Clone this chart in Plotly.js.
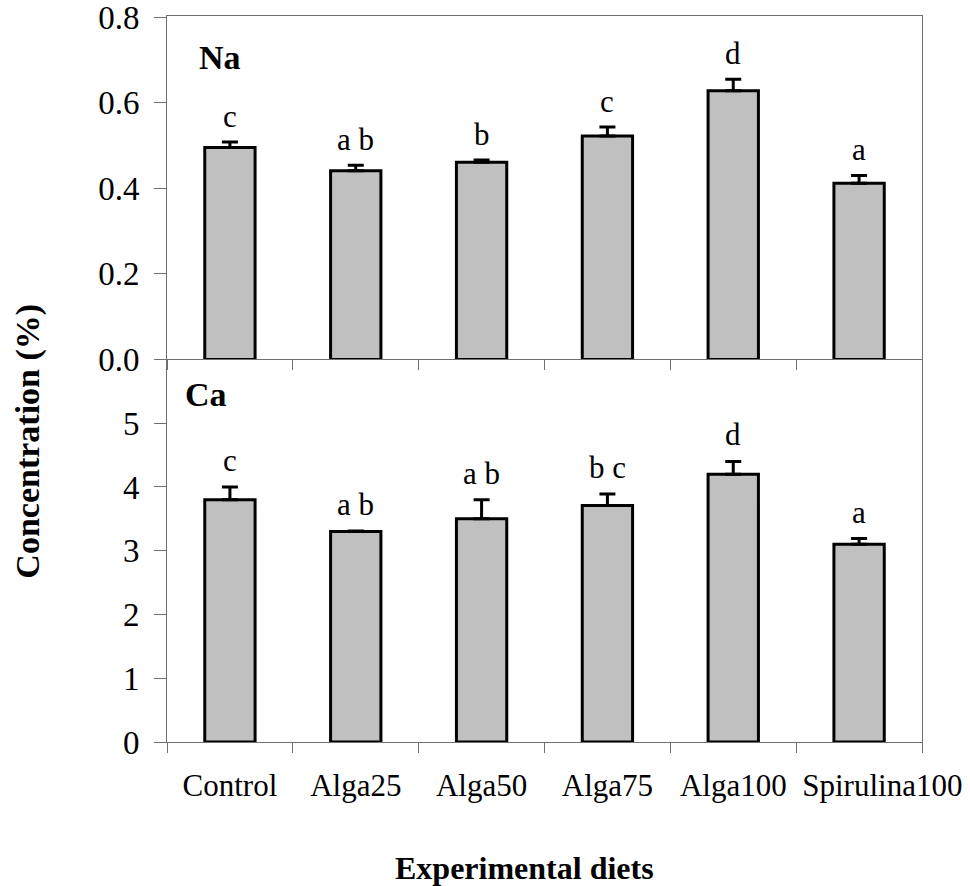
<!DOCTYPE html>
<html>
<head>
<meta charset="utf-8">
<script src="https://cdn.plot.ly/plotly-3.0.1.min.js"></script>
<style>html,body{margin:0;padding:0;background:#fff;}#chart{width:970px;height:886px;}</style>
</head>
<body>
<div id="chart"></div>
<script>
// Data
var diets = ["Control", "Alga25", "Alga50", "Alga75", "Alga100", "Spirulina100"];
var naValues = [0.495, 0.441, 0.461, 0.522, 0.628, 0.412];
var naErrors = [0.013, 0.013, 0.005, 0.021, 0.027, 0.018];
var naLetters = ["c", "a b", "b", "c", "d", "a"];
var caValues = [3.80, 3.30, 3.50, 3.71, 4.20, 3.10];
var caErrors = [0.20, 0.01, 0.30, 0.18, 0.20, 0.09];
var caLetters = ["c", "a b", "a b", "b c", "d", "a"];
var naTicks = [0.0, 0.2, 0.4, 0.6, 0.8];
var naTickText = ["0.0", "0.2", "0.4", "0.6", "0.8"];
var caTicks = [0, 1, 2, 3, 4, 5];

var serif = "Liberation Serif";
var lineCol = "#707070";
var NB = "\u00a0";
// last label is nudged right in the reference to avoid touching "Alga100"
var dietText = diets.map(function(d, i) {
  return i === diets.length - 1 ? NB + NB + NB + NB + NB + NB + d : d;
});

var barStyle = {color: "#c0c0c0", line: {color: "#000", width: 3}};
var traces = [
  {type: "bar", x: diets, y: naValues, xaxis: "x", yaxis: "y", width: 0.4,
   marker: barStyle,
   error_y: {type: "data", array: naErrors, arrayminus: naErrors.map(function(){return 0;}), symmetric: false,
             color: "#000", thickness: 3, width: 8},
   hoverinfo: "x+y", showlegend: false},
  {type: "bar", x: diets, y: caValues, xaxis: "x2", yaxis: "y2", width: 0.4,
   marker: barStyle,
   error_y: {type: "data", array: caErrors, arrayminus: caErrors.map(function(){return 0;}), symmetric: false,
             color: "#000", thickness: 3, width: 8},
   hoverinfo: "x+y", showlegend: false}
];

var annotations = [];
diets.forEach(function(d, i) {
  annotations.push({xref: "x", yref: "y", x: d, y: naValues[i] + naErrors[i], text: naLetters[i],
    showarrow: false, yanchor: "bottom", yshift: 6, font: {family: serif, size: 31, color: "#000"}});
  annotations.push({xref: "x2", yref: "y2", x: d, y: caValues[i] + caErrors[i], text: caLetters[i],
    showarrow: false, yanchor: "bottom", yshift: 7, font: {family: serif, size: 31, color: "#000"}});
});
annotations.push({xref: "paper", yref: "paper", x: 0.0397, y: 0.9434, xanchor: "left", yanchor: "middle",
  text: "<b>Na</b>", showarrow: false, font: {family: serif, size: 34, color: "#000"}});
annotations.push({xref: "paper", yref: "paper", x: 0.0212, y: 0.478, xanchor: "left", yanchor: "middle",
  text: "<b>Ca</b>", showarrow: false, font: {family: serif, size: 34, color: "#000"}});
annotations.push({xref: "paper", yref: "paper", x: -0.184, y: 0.4138, xanchor: "center", yanchor: "middle",
  textangle: -90, text: "<b>Concentration (%)</b>", showarrow: false, font: {family: serif, size: 34, color: "#000"}});
annotations.push({xref: "paper", yref: "paper", x: 0.474, y: -0.1738, xanchor: "center", yanchor: "middle",
  text: "<b>Experimental diets</b>", showarrow: false, font: {family: serif, size: 32, color: "#000"}});

var split = 0.5269;
var layout = {
  width: 970, height: 886,
  margin: {l: 167, r: 48, t: 16, b: 144},
  paper_bgcolor: "#fff", plot_bgcolor: "#fff",
  bargap: 0.6,
  showlegend: false,
  xaxis: {domain: [0, 1], anchor: "y", type: "category", showticklabels: false,
          showline: true, linecolor: lineCol, linewidth: 1, mirror: true,
          ticks: "outside", tickson: "boundaries", ticklen: 10, tickcolor: lineCol, tickwidth: 1,
          showgrid: false, zeroline: false, fixedrange: true},
  yaxis: {domain: [split, 1], anchor: "x", range: [0, 0.8025], tickmode: "array", tickvals: naTicks, ticktext: naTickText,
          showline: true, linecolor: lineCol, linewidth: 1, mirror: true,
          ticks: "outside", ticklen: 12, tickcolor: lineCol, tickwidth: 1, ticklabelstandoff: 8,
          ticklabeloverflow: "allow",
          showgrid: false, zeroline: false, automargin: false,
          tickfont: {family: serif, size: 33, color: "#000"}, fixedrange: true},
  xaxis2: {domain: [0, 1], anchor: "y2", type: "category", tickangle: 0,
          tickmode: "array", tickvals: diets, ticktext: dietText,
          showline: true, linecolor: lineCol, linewidth: 1,
          ticks: "outside", tickson: "boundaries", ticklen: 10, tickcolor: lineCol, tickwidth: 1,
          ticklabelstandoff: 16, automargin: false, ticklabeloverflow: "allow",
          showgrid: false, zeroline: false,
          tickfont: {family: serif, size: 31, color: "#000"}, fixedrange: true},
  yaxis2: {domain: [0, split], anchor: "x2", range: [0, 6], tickmode: "array", tickvals: caTicks,
          showline: true, linecolor: lineCol, linewidth: 1, mirror: true,
          ticks: "outside", ticklen: 12, tickcolor: lineCol, tickwidth: 1, ticklabelstandoff: 8,
          showgrid: false, zeroline: false, automargin: false,
          tickfont: {family: serif, size: 33, color: "#000"}, fixedrange: true},
  annotations: annotations
};

Plotly.newPlot("chart", traces, layout, {displayModeBar: false, staticPlot: true});
</script>
</body>
</html>
